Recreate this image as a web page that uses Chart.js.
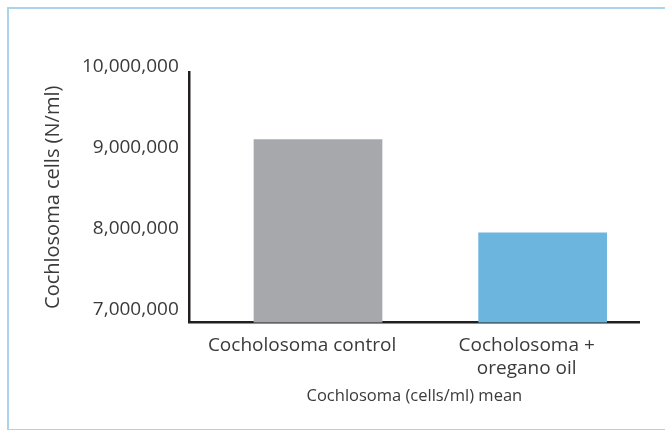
<!DOCTYPE html>
<html>
<head>
<meta charset="utf-8">
<script src="https://cdn.jsdelivr.net/npm/chart.js@4.4.1/dist/chart.umd.min.js"></script>
<style>
  html, body { margin: 0; padding: 0; background: #fff; overflow: hidden; }
  #wrap { position: relative; width: 665px; height: 430px; }
  #marco {
    position: absolute; left: 7px; top: 7px; width: 700px; height: 420px;
    border: 2px solid #a9d4ec; border-right: none;
  }
  canvas { position: absolute; left: 0; top: 0; }
</style>
</head>
<body>
<div id="wrap">
  <div id="marco"></div>
  <canvas id="grafico" width="665" height="430"></canvas>
</div>
<script>
const categorias = ["Cocholosoma control", ["Cocholosoma +", "oregano oil"]];
const medias = [9100000, 7950000];
const cores = ["#a7a8ab", "#6cb5de"];
const ticksY = [7000000, 8000000, 9000000, 10000000];

const fonte = "'Open Sans', 'DejaVu Sans', sans-serif";
const corTexto = "#3a3a3a";

new Chart(document.getElementById("grafico"), {
    type: "bar",
    data: {
        datasets: [{
            data: medias.map((v, i) => ({ x: i, y: v })),
            backgroundColor: cores,
            xAxisID: "xb",
            barPercentage: 0.573,
            categoryPercentage: 1
        }]
    },
    options: {
        responsive: false,
        animation: false,
        layout: { padding: { left: 41, right: 26, top: 72, bottom: 24 } },
        plugins: {
            legend: { display: false },
            tooltip: { enabled: false }
        },
        scales: {
            // eixo das barras (deslocado em relação aos rótulos, como no original)
            xb: {
                type: "linear",
                display: false,
                bounds: "data",
                offset: false,
                min: -0.571,
                max: 1.429,
                ticks: { stepSize: 1, includeBounds: false }
            },
            x: {
                type: "category",
                labels: categorias,
                offset: true,
                grid: { display: false, drawTicks: false },
                border: { display: true, color: "#231f20", width: 2.5 },
                ticks: {
                    color: corTexto,
                    font: { family: fonte, size: 19 },
                    padding: 12,
                    maxRotation: 0
                },
                title: {
                    display: true,
                    text: "Cochlosoma (cells/ml) mean",
                    color: corTexto,
                    font: { family: fonte, size: 16.5 },
                    padding: { top: -6, bottom: 0 }
                }
            },
            y: {
                type: "linear",
                bounds: "data",
                min: 6840000,
                max: 9930000,
                afterBuildTicks: s => { s.ticks = ticksY.map(v => ({ value: v })); },
                grid: { display: false, drawTicks: false },
                border: { display: true, color: "#231f20", width: 2.5 },
                ticks: {
                    color: corTexto,
                    font: { family: fonte, size: 19 },
                    padding: 11,
                    callback: v => Number(v).toLocaleString("en-US")
                },
                title: {
                    display: true,
                    text: "Cochlosoma cells (N/ml)",
                    color: corTexto,
                    font: { family: fonte, size: 20 },
                    padding: { top: 0, bottom: 6 }
                }
            }
        }
    }
});
</script>
</body>
</html>
